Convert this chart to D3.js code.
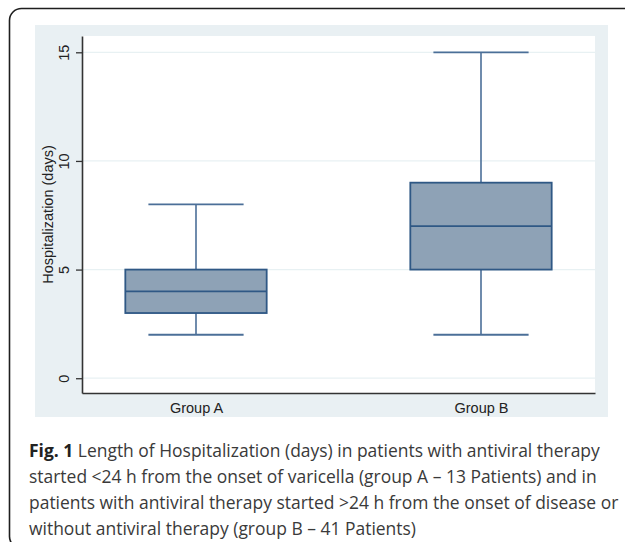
<!DOCTYPE html>
<html>
<head>
<meta charset="utf-8">
<script src="https://cdn.jsdelivr.net/npm/d3@7"></script>
<style>
  body { margin: 0; background: #fff; }
  svg { display: block; }
</style>
</head>
<body>
<div id="chart"></div>
<script>
// box plot values (days)
var groups = ["Group A", "Group B"];
var mins = [2, 2];
var q1s = [3, 5];
var medians = [4, 7];
var q3s = [5, 9];
var maxs = [8, 15];
var yTicks = [0, 5, 10, 15];

var captionLines = [
	["Fig. 1", " Length of Hospitalization (days) in patients with antiviral therapy"],
	["", "started <24 h from the onset of varicella (group A \u2013 13 Patients) and in"],
	["", "patients with antiviral therapy started >24 h from the onset of disease or"],
	["", "without antiviral therapy (group B \u2013 41 Patients)"]
];

(function() {
	var W = 625, H = 542;
	var plot = { left: 82, right: 595, top: 36, bottom: 393 };

	var svg = d3.select("#chart").append("svg")
		.attr("width", W)
		.attr("height", H);

	// outer frame (right and bottom run off the page)
	svg.append("rect")
		.attr("x", 9.5).attr("y", 8.5)
		.attr("width", 660).attr("height", 540)
		.attr("rx", 12)
		.attr("fill", "none")
		.attr("stroke", "#1e1e1e")
		.attr("stroke-width", 1.6);

	// stata graph region + plot region
	svg.append("rect")
		.attr("x", 35).attr("y", 25)
		.attr("width", 573).attr("height", 392)
		.attr("fill", "#e9f0f3");
	svg.append("rect")
		.attr("x", plot.left).attr("y", plot.top)
		.attr("width", plot.right - plot.left).attr("height", plot.bottom - plot.top)
		.attr("fill", "#fff");

	var yScale = d3.scaleLinear().domain([-0.68, 15.75]).range([plot.bottom, plot.top]);
	var xScale = d3.scalePoint().domain(groups).range([plot.left, plot.right]).padding(0.4);
	var step = xScale.step();
	var boxW = step * 0.496, capW = step * 0.334;

	// grid
	svg.append("g").selectAll("line")
		.data(yTicks)
		.enter().append("line")
		.attr("x1", plot.left).attr("x2", plot.right)
		.attr("y1", function(d) { return yScale(d); })
		.attr("y2", function(d) { return yScale(d); })
		.attr("stroke", "#e8f1f3")
		.attr("stroke-width", 1.3);

	var boxes = svg.append("g").selectAll("g")
		.data(groups)
		.enter().append("g");

	var wColor = "#4b6f98", bColor = "#2f5885";

	// whiskers
	boxes.append("line")
		.attr("x1", function(d) { return xScale(d); })
		.attr("x2", function(d) { return xScale(d); })
		.attr("y1", function(d, i) { return yScale(maxs[i]); })
		.attr("y2", function(d, i) { return yScale(q3s[i]); })
		.attr("stroke", wColor).attr("stroke-width", 1.6);
	boxes.append("line")
		.attr("x1", function(d) { return xScale(d); })
		.attr("x2", function(d) { return xScale(d); })
		.attr("y1", function(d, i) { return yScale(q1s[i]); })
		.attr("y2", function(d, i) { return yScale(mins[i]); })
		.attr("stroke", wColor).attr("stroke-width", 1.6);
	// caps
	[maxs, mins].forEach(function(arr) {
		boxes.append("line")
			.attr("x1", function(d) { return xScale(d) - capW / 2; })
			.attr("x2", function(d) { return xScale(d) + capW / 2; })
			.attr("y1", function(d, i) { return yScale(arr[i]); })
			.attr("y2", function(d, i) { return yScale(arr[i]); })
			.attr("stroke", wColor).attr("stroke-width", 1.8);
	});
	// box
	boxes.append("rect")
		.attr("x", function(d) { return xScale(d) - boxW / 2; })
		.attr("width", boxW)
		.attr("y", function(d, i) { return yScale(q3s[i]); })
		.attr("height", function(d, i) { return yScale(q1s[i]) - yScale(q3s[i]); })
		.attr("fill", "#8ea2b6")
		.attr("stroke", bColor).attr("stroke-width", 1.8);
	// median
	boxes.append("line")
		.attr("x1", function(d) { return xScale(d) - boxW / 2; })
		.attr("x2", function(d) { return xScale(d) + boxW / 2; })
		.attr("y1", function(d, i) { return yScale(medians[i]); })
		.attr("y2", function(d, i) { return yScale(medians[i]); })
		.attr("stroke", bColor).attr("stroke-width", 1.8);

	// y axis
	var yAxis = svg.append("g")
		.attr("transform", "translate(" + plot.left + ",0)")
		.call(d3.axisLeft(yScale).tickValues(yTicks).tickSize(6).tickSizeOuter(0));
	yAxis.select(".domain").attr("stroke", "#333").attr("stroke-width", 1.6);
	yAxis.selectAll(".tick line").attr("stroke", "#333").attr("stroke-width", 1.3);
	yAxis.selectAll(".tick text")
		.attr("x", 0).attr("dy", null).attr("y", -13)
		.attr("transform", "rotate(-90)")
		.attr("text-anchor", "middle")
		.attr("fill", "#222")
		.style("font", "14.5px 'Liberation Sans', Arial, sans-serif");

	// x axis
	var xAxis = svg.append("g")
		.attr("transform", "translate(0," + plot.bottom + ")")
		.call(d3.axisBottom(xScale).tickSize(0).tickSizeOuter(0).tickPadding(0));
	xAxis.select(".domain").attr("stroke", "#333").attr("stroke-width", 1.6);
	xAxis.selectAll(".tick text")
		.attr("dy", null).attr("y", 19.5)
		.attr("fill", "#222")
		.style("font", "14.5px 'Liberation Sans', Arial, sans-serif");

	svg.append("text")
		.attr("transform", "translate(52.5," + ((plot.top + plot.bottom) / 2) + ") rotate(-90)")
		.attr("text-anchor", "middle")
		.attr("fill", "#222")
		.style("font", "14.5px 'Liberation Sans', Arial, sans-serif")
		.text("Hospitalization (days)");

	// caption
	var cap = svg.append("g").attr("class", "caption");
	var texts = cap.selectAll("text")
		.data(captionLines)
		.enter().append("text")
		.attr("x", 29)
		.attr("y", function(d, i) { return 456.5 + i * 26.3; })
		.attr("fill", "#3a3a3a")
		.style("font-family", "'Open Sans', sans-serif")
		.style("font-size", "16px");
	texts.append("tspan").attr("font-weight", "bold").attr("fill", "#222").text(function(d) { return d[0]; });
	texts.append("tspan").text(function(d) { return d[1]; });

	// fit the first line to the width seen in the figure
	var w = texts.node().getComputedTextLength();
	var fs = 16 * 571 / w;
	texts.style("font-size", fs + "px");
})();
</script>
</body>
</html>
